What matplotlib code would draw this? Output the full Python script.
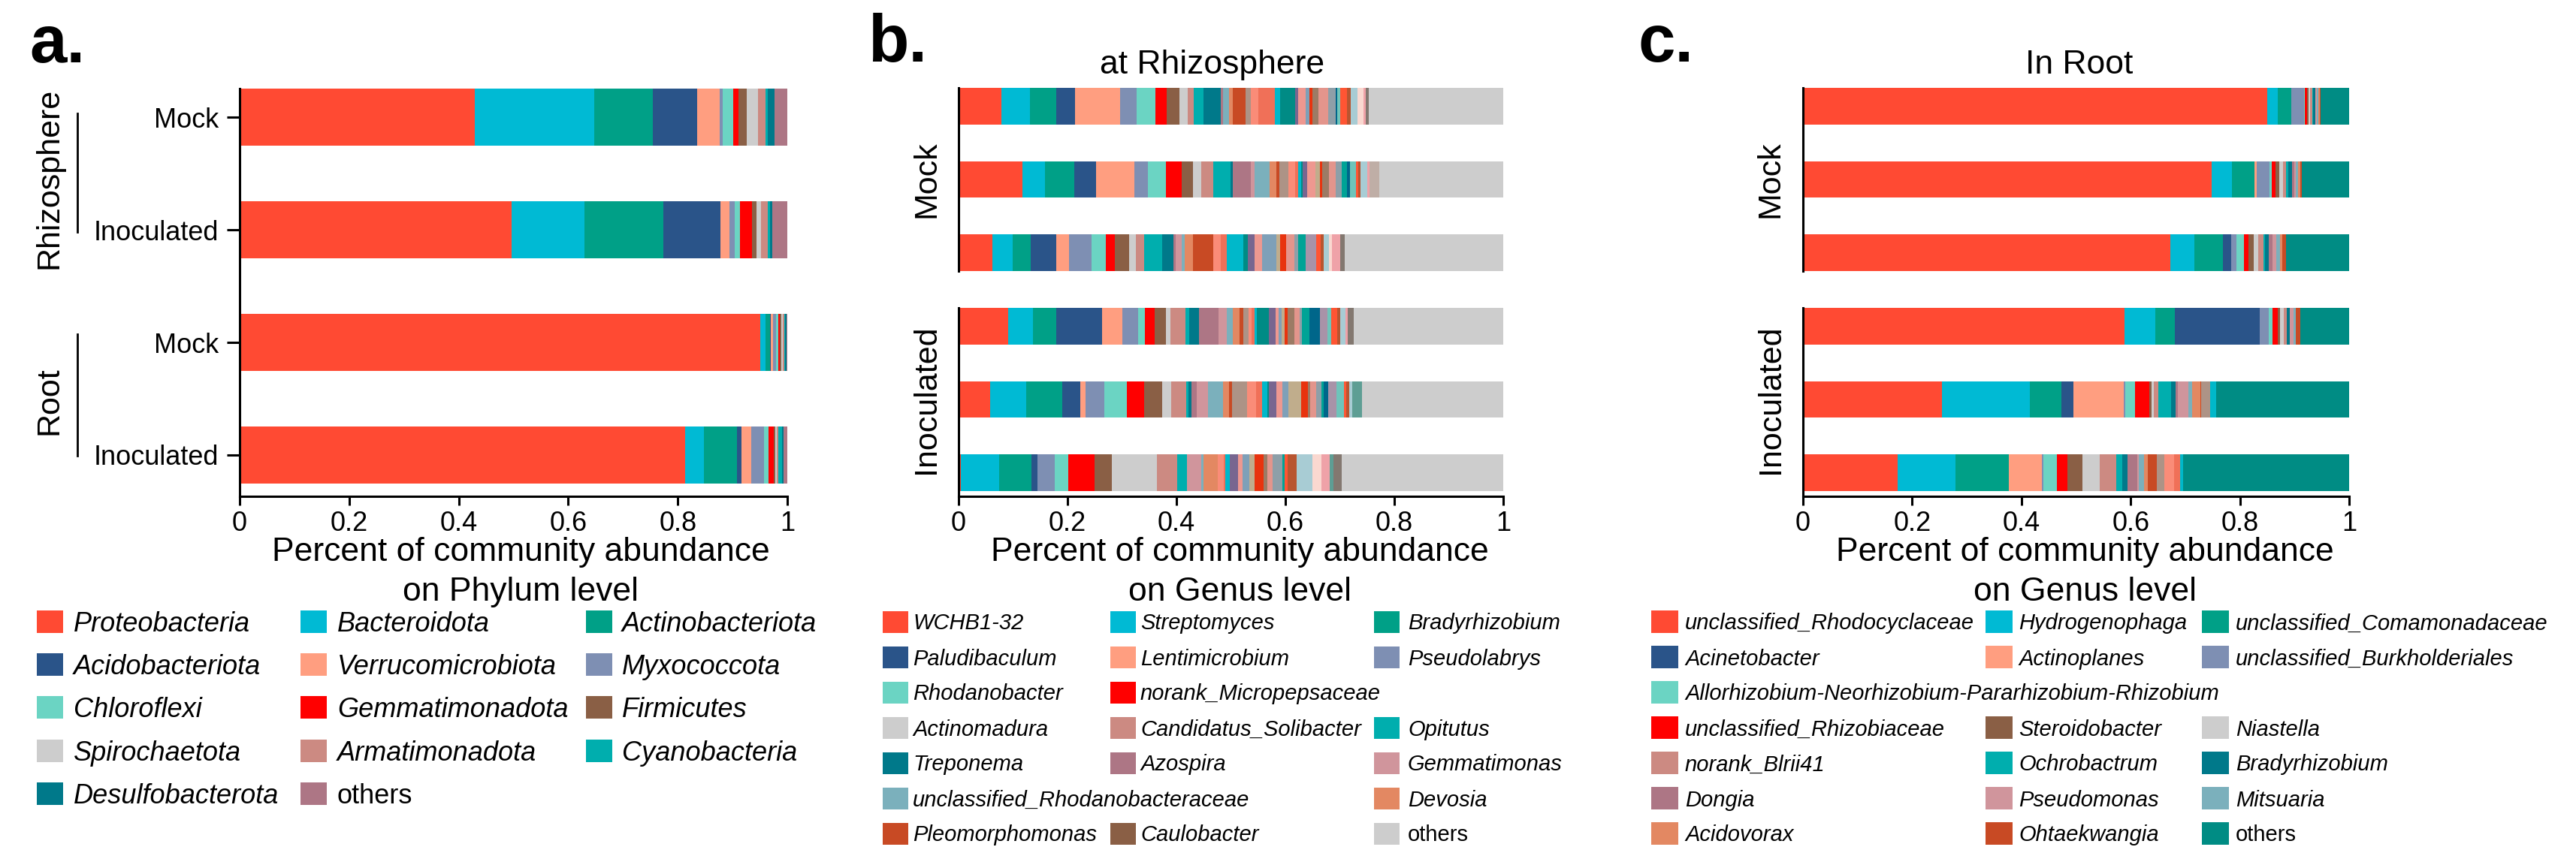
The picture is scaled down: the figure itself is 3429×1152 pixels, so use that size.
import matplotlib
matplotlib.use("Agg")
import matplotlib.pyplot as plt
from matplotlib.patches import Rectangle
from matplotlib.lines import Line2D
import numpy as np

W, H = 3430, 1152
plt.rcParams['font.family'] = ['Liberation Sans', 'DejaVu Sans']

# ---------------- panel a: phylum level ----------------
phyla = ["Proteobacteria", "Bacteroidota", "Actinobacteriota", "Acidobacteriota",
         "Verrucomicrobiota", "Myxococcota", "Chloroflexi", "Gemmatimonadota",
         "Firmicutes", "Spirochaetota", "Armatimonadota", "Cyanobacteria",
         "Desulfobacterota", "others"]
phyla_colors = ["#FF4A33", "#00BAD4", "#00A087", "#2A5489", "#FF9E80", "#7E8FB3",
                "#6BD4C3", "#FF0000", "#8A5F45", "#CDCDCD", "#CC8A82", "#00AEAE",
                "#00798A", "#AD7685"]
a_samples = ["Mock", "Inoculated", "Mock", "Inoculated"]
a_groups = ["Rhizosphere", "Root"]
a_values = [
    [.429, .219, .106, .082, .041, .005, .019, .010, .015, .021, .013, .005, .012, .023],
    [.496, .133, .145, .104, .016, .010, .009, .023, .008, .008, .013, .003, .005, .027],
    [.950, .010, .008, .002, .004, .006, .004, .002, .003, .003, .002, .002, .002, .002],
    [.814, .034, .060, .009, .017, .024, .008, .009, .003, .003, .002, .008, .002, .007],
]

# ---------------- panel b: genus level, rhizosphere ----------------
b_names = ["WCHB1-32", "Streptomyces", "Bradyrhizobium", "Paludibaculum",
           "Lentimicrobium", "Pseudolabrys", "Rhodanobacter", "norank_Micropepsaceae",
           "Caulobacter", "Actinomadura", "Candidatus_Solibacter", "Opitutus",
           "Treponema", "Azospira", "Gemmatimonas", "unclassified_Rhodanobacteraceae",
           "Devosia", "Pleomorphomonas"]
genus_colors = ["#FF4A33", "#00BAD4", "#00A087", "#2A5489", "#FF9E80", "#7E8FB3",
                "#6BD4C3", "#FF0000", "#8A5F45", "#CDCDCD", "#CC8A82", "#00AEAE",
                "#00798A", "#AD7685", "#D0959C", "#7BB0BC", "#E38862", "#C84A24"]
# genera shown in the bars but not in the legend
unlisted_colors = ["#AD9386", "#FA8C78", "#F07058", "#00B8CA", "#008B85", "#786690",
                   "#EE9890", "#7FA0B8", "#C0AD8C", "#E8330E", "#9C7B65", "#E3958C",
                   "#8E9FA8", "#00A396", "#00668A", "#A893A8", "#6EC4BA", "#FF5533",
                   "#B85530", "#A8CCD4", "#FAD8D0", "#EFA2A8", "#5E9E94", "#837870",
                   "#BFAEA6"]
b_others_color = "#CDCDCD"
b_mock = [
    [.079, .052, .049, .034, .082, .031, .034, .021, .024, .015, .011, .018, .031, .005, .000,
     .010, .008, .023, .009, .014, .030, .011, .027, .005, .014, .007, .000, .006, .011, .018,
     .013, .000, .003, .000, .005, .013, .007, .012, .011, .005, .000, .005, .000, .247],
    [.117, .042, .053, .040, .071, .025, .033, .028, .021, .016, .022, .031, .005, .032, .008,
     .027, .012, .006, .016, .013, .005, .006, .003, .008, .015, .000, .008, .005, .012, .013,
     .011, .009, .006, .000, .010, .005, .004, .012, .000, .004, .000, .000, .018, .228],
    [.062, .038, .032, .048, .023, .041, .027, .016, .026, .013, .015, .033, .020, .005, .010,
     .006, .015, .037, .000, .015, .011, .030, .008, .013, .013, .027, .007, .010, .000, .016,
     .007, .013, .000, .020, .000, .008, .005, .010, .006, .014, .000, .009, .000, .291],
]
b_inoc = [
    [.091, .045, .043, .084, .038, .028, .013, .018, .021, .008, .027, .008, .018, .035, .016,
     .011, .012, .007, .010, .005, .005, .004, .023, .012, .006, .005, .006, .005, .013, .009,
     .005, .013, .020, .013, .007, .011, .005, .010, .000, .005, .000, .011, .000, .274],
    [.058, .066, .066, .033, .010, .035, .041, .032, .033, .016, .028, .004, .006, .009, .021,
     .027, .012, .005, .028, .016, .011, .010, .003, .014, .011, .011, .023, .012, .005, .011,
     .009, .005, .008, .015, .013, .005, .005, .006, .000, .000, .018, .000, .000, .259],
    [.004, .071, .059, .011, .000, .031, .026, .047, .032, .083, .037, .019, .000, .000, .026,
     .004, .026, .000, .000, .011, .003, .008, .000, .015, .008, .013, .010, .016, .007, .009,
     .018, .005, .000, .000, .000, .005, .017, .028, .017, .016, .006, .015, .000, .297],
]

# ---------------- panel c: genus level, root ----------------
c_names = ["unclassified_Rhodocyclaceae", "Hydrogenophaga", "unclassified_Comamonadaceae",
           "Acinetobacter", "Actinoplanes", "unclassified_Burkholderiales",
           "Allorhizobium-Neorhizobium-Pararhizobium-Rhizobium", "unclassified_Rhizobiaceae",
           "Steroidobacter", "Niastella", "norank_Blrii41", "Ochrobactrum", "Bradyrhizobium",
           "Dongia", "Pseudomonas", "Mitsuaria", "Acidovorax", "Ohtaekwangia"]
c_others_color = "#008C84"
c_mock = [
    [.850, .019, .025, 0, 0, .023, .002, .004, .003, .003, .003, .002, .004, 0, .003, .002,
     .003, .002, 0, 0, 0, 0, .052],
    [.748, .038, .041, 0, .004, .023, .005, .006, .007, .007, .006, .004, .007, .003, .004,
     .003, .004, .004, 0, 0, 0, 0, .086],
    [.673, .044, .052, .015, 0, .009, .014, .009, .009, .009, .009, .003, .007, .007, .007,
     .006, .004, .007, 0, 0, 0, 0, .116],
]
c_inoc = [
    [.589, .056, .036, .155, 0, .017, .007, .009, .004, .008, .005, 0, .006, 0, .006, .005,
     0, .008, 0, 0, 0, 0, .089],
    [.255, .161, .057, .022, .093, .002, .018, .026, .004, .004, .009, .023, .008, .004, .020,
     .006, .015, .002, .016, 0, 0, .011, .244],
    [.174, .105, .098, 0, .060, .003, .025, .019, .028, .031, .030, .011, .010, .018, .003,
     .010, .006, .017, .013, .019, .011, .005, .304],
]

x_ticks = [0, 0.2, 0.4, 0.6, 0.8, 1]
x_ticklabels = ["0", "0.2", "0.4", "0.6", "0.8", "1"]
xlab1 = "Percent of community abundance"

# legend slot positions (row, col); the last entry is "others"
b_slots = [(0, 0), (0, 1), (0, 2), (1, 0), (1, 1), (1, 2), (2, 0), (2, 1), (6, 1),
           (3, 0), (3, 1), (3, 2), (4, 0), (4, 1), (4, 2), (5, 0), (5, 2), (6, 0), (6, 2)]
c_slots = [(0, 0), (0, 1), (0, 2), (1, 0), (1, 1), (1, 2), (2, 0), (3, 0), (3, 1),
           (3, 2), (4, 0), (4, 1), (4, 2), (5, 0), (5, 1), (5, 2), (6, 0), (6, 1), (6, 2)]

LW = 2.2


def box(x0, y0, x1, y1):
    return [x0 / W, 1 - y1 / H, (x1 - x0) / W, (y1 - y0) / H]


def px(x, y):
    return x / W, 1 - y / H


def stack_bars(ax, rows, colors, height):
    vals = np.array(rows, dtype=float)
    ypos = np.arange(len(vals))
    left = np.zeros(len(vals))
    for j, col in enumerate(colors):
        ax.barh(ypos, vals[:, j], left=left, height=height, color=col, linewidth=0)
        left += vals[:, j]


def style_axis(ax, bottom):
    ax.set_xlim(0, 1)
    ax.spines['top'].set_visible(False)
    ax.spines['right'].set_visible(False)
    ax.spines['left'].set_linewidth(LW)
    ax.spines['bottom'].set_linewidth(LW)
    if bottom:
        ax.set_xticks(x_ticks)
        ax.set_xticklabels(x_ticklabels, fontsize=26)
        ax.tick_params(axis='x', length=8.5, width=LW, pad=5)
    else:
        ax.spines['bottom'].set_visible(False)
        ax.set_xticks([])


def xlabel(fig, cx, second):
    fig.text(*px(cx, 747), xlab1, fontsize=32, ha='center', va='baseline')
    fig.text(*px(cx, 800), second, fontsize=32, ha='center', va='baseline')


def legend(fig, slots, labels, colors, patch_x, text_x, row0, dy, pw, ph, fs):
    for (r, c), lab, col in zip(slots, labels, colors):
        yc = row0 + r * dy
        fig.add_artist(Rectangle(px(patch_x[c], yc + ph / 2), pw / W, ph / H,
                                 transform=fig.transFigure, color=col, lw=0))
        # taxon names are italic, the "others" bin is not
        fig.text(*px(text_x[c], yc + 0.36 * fs * 100 / 72), lab, fontsize=fs,
                 style='normal' if lab == "others" else 'italic',
                 ha='left', va='baseline')


fig = plt.figure(figsize=(W / 100, H / 100), dpi=100)

# ---- panel a ----
ax = fig.add_axes(box(319, 118, 1048, 661))
stack_bars(ax, a_values, phyla_colors, 0.51)
ax.set_ylim(3.367, -0.255)
style_axis(ax, True)
ax.set_yticks(range(len(a_samples)))
ax.set_yticklabels(a_samples, fontsize=26)
ax.tick_params(axis='y', length=12, width=LW, pad=8)
xlabel(fig, 693, "on Phylum level")
fig.text(*px(39, 83), "a.", fontsize=64, fontweight='bold', ha='left', va='baseline')
for name, yc, (y0, y1) in zip(a_groups, [237, 534], [(151, 309), (445, 607)]):
    fig.text(*px(66, yc), name, fontsize=31, rotation=90, ha='center', va='center')
    fig.add_artist(Line2D([103 / W, 103 / W], [1 - y0 / H, 1 - y1 / H],
                          transform=fig.transFigure, color='black', lw=2))
legend(fig, [(k // 3, k % 3) for k in range(len(phyla))], phyla, phyla_colors,
       [49, 400, 780], [98, 449, 828], 828, 57.2, 35, 30, 26)

# ---- panels b and c ----
panels = [
    (1276, 2001, b_mock, b_inoc, genus_colors + unlisted_colors + [b_others_color],
     "b.", 1155, "at Rhizosphere", 1614, 1233),
    (2400, 3127, c_mock, c_inoc, genus_colors + unlisted_colors[:4] + [c_others_color],
     "c.", 2180, "In Root", 2768, 2357),
]
for x0, x1, mock, inoc, colors, tag, tag_x, title, title_x, strip_x in panels:
    ax_m = fig.add_axes(box(x0, 117, x1, 361))
    stack_bars(ax_m, mock, colors, 0.5)
    ax_m.set_ylim(2.25, -0.25)
    style_axis(ax_m, False)
    ax_m.set_yticks([])
    ax_i = fig.add_axes(box(x0, 410, x1, 661))
    stack_bars(ax_i, inoc, colors, 0.5)
    ax_i.set_ylim(2.322, -0.25)
    style_axis(ax_i, True)
    ax_i.set_yticks([])
    fig.text(*px(strip_x, 239), "Mock", fontsize=31, rotation=90, ha='center', va='center')
    fig.text(*px(strip_x, 532), "Inoculated", fontsize=31, rotation=90,
             ha='center', va='center')
    fig.text(*px(tag_x, 82), tag, fontsize=64, fontweight='bold', ha='left', va='baseline')
    fig.text(*px(title_x, 98), title, fontsize=32, ha='center', va='baseline')
    xlabel(fig, (x0 + x1) / 2 + 12, "on Genus level")

legend(fig, b_slots, b_names + ["others"], genus_colors + [b_others_color],
       [1175, 1478, 1829], [1215, 1518, 1874], 828, 47, 34, 29, 21)
legend(fig, c_slots, c_names + ["others"], genus_colors + [c_others_color],
       [2198, 2643, 2931], [2243, 2687, 2976], 828, 47, 36, 30, 21)

fig.savefig("out.png", dpi=100)
